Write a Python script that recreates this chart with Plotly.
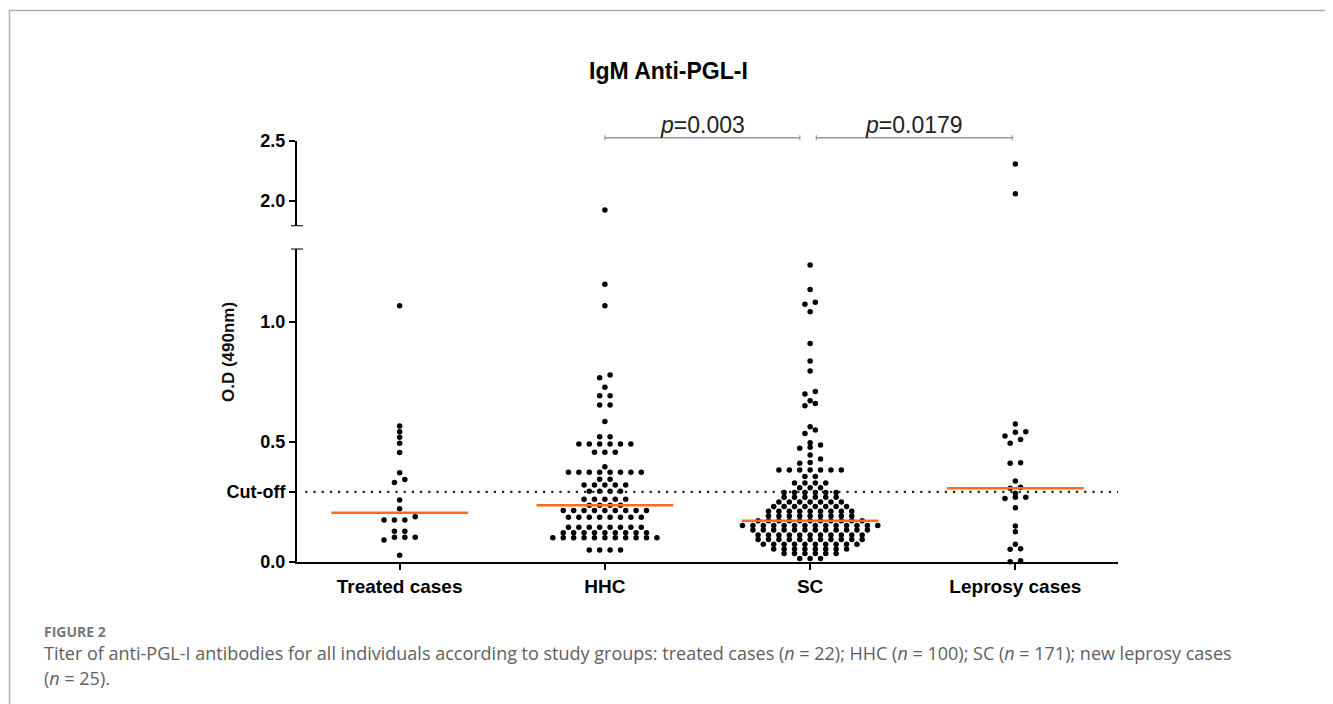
import numpy as np
import plotly.graph_objects as go

# ---------------- data ----------------
categories = ["Treated cases", "HHC", "SC", "Leprosy cases"]

treated_levels = [1.068, 0.567, 0.543, 0.520, 0.495, 0.456, 0.372, 0.344, 0.331,
                  0.258, 0.222, 0.189, 0.175, 0.128, 0.103, 0.092, 0.028]
treated_counts = [1, 1, 1, 1, 1, 1, 1, 1, 1, 1, 1, 1, 3, 2, 3, 1, 1]

hhc_levels = [1.925, 1.157, 1.068, 0.779, 0.768, 0.728, 0.693, 0.654, 0.585,
              0.522, 0.492, 0.457, 0.397, 0.374, 0.345, 0.321, 0.295, 0.261,
              0.236, 0.215, 0.186, 0.145, 0.122, 0.101, 0.050]
hhc_counts = [1, 1, 1, 1, 1, 1, 2, 2, 1,
              2, 6, 3, 1, 8, 2, 5, 4, 5,
              4, 9, 8, 8, 9, 11, 4]

sc_levels = [1.2375, 1.136, 1.082, 1.074, 1.043, 0.911, 0.838, 0.796, 0.710, 0.700,
             0.672, 0.661, 0.651, 0.564, 0.550, 0.536, 0.497, 0.488, 0.478, 0.474,
             0.446, 0.429, 0.415, 0.411,
             0.383, 0.356, 0.329, 0.309, 0.290, 0.270, 0.250, 0.231, 0.211, 0.192,
             0.172, 0.152, 0.133, 0.113, 0.094, 0.074, 0.054, 0.035, 0.015]
sc_counts = [1, 1, 1, 1, 1, 1, 1, 1, 1, 1,
             1, 1, 1, 1, 1, 1, 1, 1, 1, 1,
             1, 1, 1, 1,
             7, 2, 4, 3, 6, 6, 7, 8, 9, 9,
             11, 14, 12, 11, 11, 10, 8, 6, 3]

leprosy_levels = [2.309, 2.059, 0.575, 0.543, 0.541, 0.525, 0.511, 0.495, 0.414,
                  0.411, 0.3375, 0.311, 0.307, 0.286, 0.270, 0.265, 0.226, 0.150,
                  0.126, 0.074, 0.055, 0.053, 0.005, 0.001]
leprosy_counts = [1, 1, 1, 1, 1, 1, 1, 1, 1,
                  1, 1, 1, 1, 1, 2, 1, 1, 1,
                  1, 1, 1, 1, 1, 1]

cutoff = 0.292
p_labels = ["<i>p</i>=0.003", "<i>p</i>=0.0179"]
lower_ticks = [0.0, cutoff, 0.5, 1.0]
lower_ticktext = ["0.0", "Cut-off", "0.5", "1.0"]
upper_ticks = [2.0, 2.5]
upper_ticktext = ["2.0", "2.5"]
lower_range = [0.0, 1.306]
upper_range = [1.788, 2.5]

groups = [(treated_levels, treated_counts), (hhc_levels, hhc_counts),
          (sc_levels, sc_counts), (leprosy_levels, leprosy_counts)]

# ---------------- layout geometry ----------------
OFF = 8                      # page body margin
W, H = 1325, 696
X0, X1 = 297 - OFF, 1118 - OFF      # plot area in figure pixels
Y0, Y1 = 141 - OFF, 562 - OFF
L, R, T, B = X0, W - X1, Y0, H - Y1
PW, PH = X1 - X0, Y1 - Y0
y_lower_dom = [0, (562 - 248.6) / PH]
y_upper_dom = [(562 - 226.3) / PH, 1]


def pxx(px):
    """page x pixel -> paper x"""
    return (px - OFF - X0) / PW


def pxy(py):
    """page y pixel -> paper y"""
    return (Y1 - (py - OFF)) / PH


def swarm(values, center, step=0.0507, tol=0.0185):
    """Prism-like row layout: values within tol form a row, centred on the category."""
    values = np.asarray(values, dtype=float)
    order = np.argsort(values, kind="stable")
    xs = np.zeros(len(values))
    rows, cur, start = [], [], None
    for idx in order:
        v = values[idx]
        if start is None or v - start > tol:
            if cur:
                rows.append(cur)
            cur, start = [idx], v
        else:
            cur.append(idx)
    if cur:
        rows.append(cur)
    for row in rows:
        n = len(row)
        for k, idx in enumerate(row):
            xs[idx] = center + (k - (n - 1) / 2) * step
    return xs


fig = go.Figure()
ORANGE = "#ff6a1a"

for gi, (levels, counts) in enumerate(groups):
    vals = np.repeat(np.array(levels, dtype=float), counts)
    xs = swarm(vals, gi)
    low = vals <= lower_range[1]
    fig.add_trace(go.Scatter(x=xs[low], y=vals[low], mode="markers",
                             marker=dict(size=5.5, color="black"),
                             cliponaxis=False, showlegend=False,
                             xaxis="x", yaxis="y"))
    if (~low).any():
        fig.add_trace(go.Scatter(x=xs[~low], y=vals[~low], mode="markers",
                                 marker=dict(size=5.5, color="black"),
                                 cliponaxis=False, showlegend=False,
                                 xaxis="x", yaxis="y2"))
    med = float(np.median(vals))
    fig.add_trace(go.Scatter(x=[gi - 0.333, gi + 0.333], y=[med, med], mode="lines",
                             line=dict(color=ORANGE, width=2.5), showlegend=False,
                             xaxis="x", yaxis="y"))

shapes = []
# cut-off dotted line
shapes.append(dict(type="line", xref="x", yref="y", x0=-0.46, x1=3.5, y0=cutoff, y1=cutoff,
                   line=dict(color="#222", width=2.2, dash="2.2px,6px")))
# axis break caps
cap = 6 / PW
for yref, yv in (("y", lower_range[1]), ("y2", upper_range[0])):
    shapes.append(dict(type="line", xref="paper", yref=yref, x0=-cap, x1=cap, y0=yv, y1=yv,
                       line=dict(color="black", width=2)))
# significance brackets
brackets = [(1.0, 1.95), (2.03, 2.985)]
by = pxy(137.7)
bt = 2.5 / PH
for (x0, x1) in brackets:
    shapes.append(dict(type="line", xref="x", yref="paper", x0=x0, x1=x1, y0=by, y1=by,
                       line=dict(color="#999", width=1.5)))
    for xe in (x0, x1):
        shapes.append(dict(type="line", xref="x", yref="paper", x0=xe, x1=xe,
                           y0=by - bt, y1=by + bt, line=dict(color="#999", width=1.2)))
# outer frame
shapes.append(dict(type="rect", xref="paper", yref="paper",
                   x0=pxx(9.5), x1=pxx(1332), y0=pxy(730), y1=pxy(10.5),
                   line=dict(color="#b0b0b0", width=1.5), fillcolor="rgba(0,0,0,0)"))

annotations = []
annotations.append(dict(text="IgM Anti-PGL-I", xref="paper", yref="paper",
                        x=pxx(668), y=pxy(71), showarrow=False, xanchor="center", yanchor="middle",
                        font=dict(family="Liberation Sans", size=23, color="black", weight="bold")))
annotations.append(dict(text="O.D (490nm)", xref="paper", yref="paper", textangle=-90,
                        x=pxx(228), y=pxy(352), showarrow=False, xanchor="center", yanchor="middle",
                        font=dict(family="Liberation Sans", size=17, color="#111", weight="bold")))
for (x0, x1), lab in zip(brackets, p_labels):
    annotations.append(dict(text=lab, xref="x", yref="paper", x=(x0 + x1) / 2, y=pxy(125),
                            showarrow=False, xanchor="center", yanchor="middle",
                            font=dict(family="Liberation Sans", size=23, color="#222")))
annotations.append(dict(text="FIGURE 2", xref="paper", yref="paper", x=pxx(42), y=pxy(631),
                        showarrow=False, xanchor="left", yanchor="middle",
                        font=dict(family="Open Sans", size=14, color="#777", weight="bold")))
annotations.append(dict(text="Titer of anti-PGL-I antibodies for all individuals according to study groups: "
                             "treated cases (<i>n</i> = 22); HHC (<i>n</i> = 100); SC (<i>n</i> = 171); "
                             "new leprosy cases",
                        xref="paper", yref="paper", x=pxx(42), y=pxy(653),
                        showarrow=False, xanchor="left", yanchor="middle",
                        font=dict(family="Open Sans", size=18, color="#606060")))
annotations.append(dict(text="(<i>n</i> = 25).", xref="paper", yref="paper", x=pxx(42), y=pxy(678),
                        showarrow=False, xanchor="left", yanchor="middle",
                        font=dict(family="Open Sans", size=18, color="#606060")))

ytickfont = dict(family="Liberation Sans", size=18, color="black", weight="bold")
xtickfont = dict(family="Liberation Sans", size=19, color="black", weight="bold")
fig.update_layout(
    width=W, height=H,
    margin=dict(l=L, r=R, t=T, b=B, pad=0),
    plot_bgcolor="white", paper_bgcolor="white",
    showlegend=False,
    xaxis=dict(range=[-0.5, 3.5], tickvals=[0, 1, 2, 3], ticktext=categories,
               showline=True, linewidth=2, linecolor="black", ticks="outside", ticklen=6,
               tickwidth=2, tickcolor="black", showgrid=False, zeroline=False,
               tickfont=xtickfont, anchor="y", fixedrange=True),
    yaxis=dict(domain=y_lower_dom, range=lower_range, tickvals=lower_ticks, ticktext=lower_ticktext,
               showline=True, linewidth=2, linecolor="black", ticks="outside", ticklen=6,
               tickwidth=2, tickcolor="black", showgrid=False, zeroline=False,
               tickfont=ytickfont, anchor="x"),
    yaxis2=dict(domain=y_upper_dom, range=upper_range, tickvals=upper_ticks, ticktext=upper_ticktext,
                showline=True, linewidth=2, linecolor="black", ticks="outside", ticklen=6,
                tickwidth=2, tickcolor="black", showgrid=False, zeroline=False,
                tickfont=ytickfont, anchor="x"),
    shapes=shapes,
    annotations=annotations,
)

fig.write_html("out.html")
